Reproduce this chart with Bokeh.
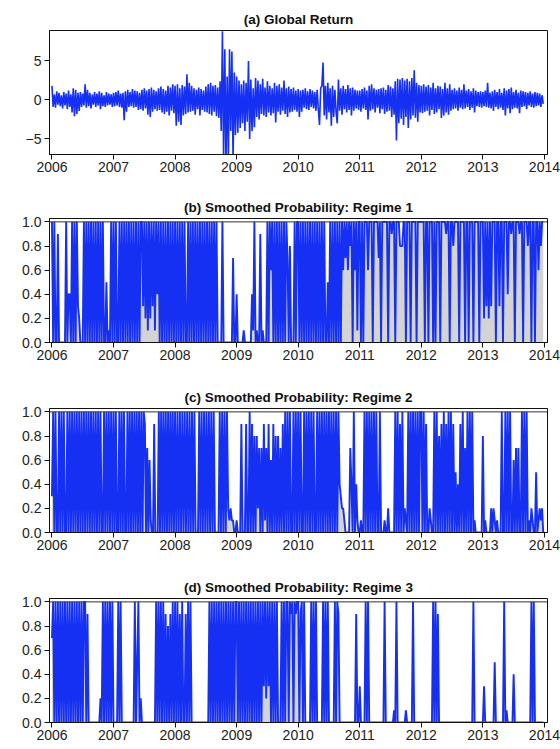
import numpy as np
from bokeh.plotting import figure
from bokeh.layouts import column
from bokeh.models import Span, FixedTicker, NumeralTickFormatter, Range1d
from bokeh.embed import file_html
from bokeh.resources import INLINE

YEARS = [2006, 2007, 2008, 2009, 2010, 2011, 2012, 2013]
YEAR_TICKS = [2006, 2007, 2008, 2009, 2010, 2011, 2012, 2013, 2014]
PROB_TICKS = [0.0, 0.2, 0.4, 0.6, 0.8, 1.0]
RET_TICKS = [-5, 0, 5]

# Weekly global return (%), one list per calendar year
ret_2006 = [1.8, -0.9, 0.7, -1.0, 1.1, -0.6, 0.9, -0.8, 0.6, -1.1, 1.0, -0.7, 0.8, -1.2, 1.2, -0.9, 0.7, -1.6, 1.5, -2.1,
            1.3, -1.8, 0.9, -1.4, 1.0, -0.9, 0.8, -0.7, 2.0, -1.0, 1.3, -0.8, 0.9, -1.1, 0.7, -0.6, 1.0, -0.9, 0.8, -0.7,
            1.1, -1.2, 0.9, -0.8, 0.6, -0.9, 1.0, -0.7, 0.8, -0.6, 0.7, -0.9]
ret_2007 = [0.9, -0.8, 1.0, -0.7, 1.2, -0.9, 0.8, -1.0, 0.9, -2.6, 1.1, -1.5, 1.3, -0.9, 1.0, -0.8, 1.4, -1.0, 1.2, -0.9,
            1.1, -1.3, 0.9, -1.2, 1.3, -1.4, 1.5, -1.1, 1.2, -1.9, 1.4, -2.2, 1.6, -1.5, 1.3, -1.2, 1.1, -1.4, 1.5, -1.3,
            1.7, -1.6, 1.4, -1.8, 1.2, -1.5, 1.8, -2.0, 1.6, -1.4, 2.0, -1.7]
ret_2008 = [1.8, -3.3, 2.0, -2.8, 1.5, -3.2, 1.9, -2.0, 1.7, -1.8, 3.3, -1.6, 2.2, -1.5, 1.8, -1.4, 1.5, -1.9, 1.3, -1.2,
            1.6, -2.0, 1.4, -1.3, 1.2, -1.5, 1.7, -1.6, 2.0, -1.8, 2.2, -2.0, 1.8, -1.5, 1.9, -2.1, 1.6, -2.3, 2.4, -4.0,
            8.8, -7.6, 6.5, -8.3, 3.0, -7.4, 6.5, -4.0, 6.2, -7.8, 3.5, -4.5]
ret_2009 = [3.0, -4.2, 2.5, -3.6, 2.0, -3.0, 2.5, -4.0, 2.2, -2.8, 5.0, -5.0, 2.6, -4.0, 1.5, -3.5, 2.8, -2.2, 2.5, -2.5,
            2.0, -1.8, 2.7, -2.0, 1.6, -2.2, 2.4, -1.6, 1.8, -2.0, 1.5, -1.7, 2.2, -2.9, 1.8, -1.5, 2.0, -1.9, 1.6, -1.4,
            2.5, -1.8, 1.5, -2.2, 1.7, -1.6, 1.4, -1.5, 1.6, -1.3, 1.2, -1.5]
ret_2010 = [1.4, -2.2, 1.2, -1.5, 1.3, -1.0, 1.5, -1.2, 1.1, -1.3, 1.4, -0.9, 1.2, -1.1, 1.0, -1.4, 1.3, -1.2, -3.2, 1.5,
            1.8, 4.8, -2.0, 1.8, -2.5, 2.2, -1.6, 1.5, -3.3, 1.8, -2.2, 1.3, -1.5, -3.0, 2.6, -1.4, 1.5, -1.9, 1.8, -1.2,
            1.4, -1.6, 1.9, -1.3, 1.5, -2.0, 1.6, -1.4, 1.3, -1.1, 1.2, -1.3]
ret_2011 = [1.2, -1.5, 1.4, -1.1, 1.6, -1.3, 1.2, -2.5, 1.8, -1.4, 2.0, -1.2, 1.5, -1.6, 1.3, -1.0, 1.4, -1.7, 1.5, -1.2,
            1.6, -1.8, 1.3, -1.5, 1.9, -1.4, 1.7, -2.2, 1.5, -1.9, 2.4, -5.2, 2.7, -3.0, 2.6, -2.4, 2.8, -3.2, 2.5, -2.2,
            2.7, -3.6, 2.4, -2.5, 2.8, -2.0, 3.8, -2.3, 2.2, -2.8, 1.9, -1.6]
ret_2012 = [1.8, -1.7, 2.0, -1.5, 1.7, -1.4, 1.9, -2.0, 1.6, -1.3, 2.2, -1.8, 1.5, -1.6, 1.8, -1.2, 1.7, -2.3, 1.4, -2.0,
            2.2, -1.6, 1.5, -1.9, 2.0, -1.4, 1.3, -1.2, 1.5, -1.1, 1.2, -1.4, 1.6, -1.0, 1.3, -1.2, 2.0, -1.1, 1.2, -0.9,
            1.4, -1.3, 1.1, -1.0, 1.5, -1.6, 1.2, -0.8, 1.0, -0.9, 1.1, -1.0]
ret_2013 = [1.0, -0.8, 1.2, -0.9, 2.2, -1.0, 0.9, -1.1, 1.1, -1.4, 1.3, -0.9, 1.0, -1.2, 1.4, -1.0, 0.9, -1.3, 1.5, -2.0,
            1.2, -1.1, 1.4, -1.7, 1.6, -1.2, 1.0, -1.0, 1.3, -1.1, 0.9, -1.7, 1.2, -0.9, 1.1, -0.8, 1.0, -1.2, 0.9, -0.7,
            1.1, -0.9, 0.8, -1.0, 1.0, -0.8, 0.9, -0.7, 0.8, -0.9, 0.6, -0.5]

# Weekly smoothed probabilities, in tenths, one list per calendar year
r1_2006 = [10, 0, 10, 0, 0, 9, 0, 0, 0, 0, 0, 0, 10, 0, 4, 4, 0, 10, 0, 10, 0, 10, 3, 2, 0, 0, 0, 10, 0, 10, 0, 10, 0,
           10, 0, 10, 0, 10, 0, 10, 0, 10, 0, 10, 0, 0, 5, 0, 1, 0, 10, 0]
r1_2007 = [10, 0, 10, 0, 0, 10, 0, 10, 0, 10, 0, 10, 0, 10, 0, 10, 0, 10, 0, 10, 0, 10, 0, 10, 10, 3, 10, 2, 10, 1, 10,
           2, 10, 3, 10, 1, 10, 4, 10, 0, 10, 0, 10, 0, 10, 0, 10, 0, 10, 0, 10, 0]
r1_2008 = [10, 0, 10, 0, 10, 0, 10, 0, 10, 0, 0, 10, 0, 10, 0, 10, 0, 10, 0, 10, 0, 10, 0, 10, 0, 10, 0, 10, 0, 10, 0,
           10, 0, 10, 0, 10, 0, 0, 0, 0, 10, 0, 0, 0, 0, 0, 0, 0, 0, 7, 0, 0]
r1_2009 = [4, 0, 0, 0, 0, 0, 1, 0, 0, 0, 0, 0, 0, 4, 1, 10, 0, 1, 0, 0, 9, 0, 1, 0, 0, 0, 10, 0, 10, 6, 10, 0, 10, 0,
           10, 0, 10, 0, 10, 0, 10, 0, 10, 7, 0, 8, 0, 0, 0, 10, 0, 10]
r1_2010 = [10, 0, 10, 0, 10, 0, 10, 0, 10, 0, 10, 0, 10, 0, 10, 0, 10, 0, 10, 0, 10, 0, 10, 0, 0, 5, 0, 10, 0, 10, 0,
           10, 0, 10, 0, 10, 0, 10, 6, 10, 7, 10, 6, 10, 8, 10, 0, 10, 6, 10, 1, 10]
r1_2011 = [10, 0, 10, 0, 10, 10, 10, 6, 10, 10, 10, 0, 10, 10, 10, 10, 7, 10, 0, 10, 10, 10, 10, 10, 0, 10, 10, 9, 10,
           10, 0, 10, 10, 10, 8, 8, 8, 10, 10, 0, 10, 10, 10, 0, 10, 10, 10, 10, 0, 10, 10, 10]
r1_2012 = [10, 10, 10, 0, 10, 10, 0, 10, 10, 10, 0, 10, 0, 10, 10, 10, 0, 10, 10, 10, 10, 9, 10, 10, 0, 10, 10, 8, 10,
           10, 10, 10, 0, 10, 10, 10, 10, 0, 10, 10, 0, 10, 10, 10, 0, 10, 10, 10, 10, 0, 10, 10]
r1_2013 = [10, 2, 10, 3, 10, 2, 10, 3, 10, 10, 10, 0, 10, 10, 3, 10, 10, 0, 10, 10, 10, 4, 10, 10, 9, 10, 10, 0, 10, 10,
           10, 9, 10, 10, 0, 10, 10, 10, 8, 10, 10, 0, 10, 10, 0, 10, 10, 6, 10, 8, 10, 10]

r2_2006 = [3, 10, 0, 10, 0, 0, 10, 0, 10, 0, 10, 0, 0, 10, 0, 10, 0, 10, 0, 10, 0, 10, 0, 10, 0, 10, 0, 10, 0, 10, 0,
           10, 0, 10, 0, 10, 0, 10, 0, 10, 0, 10, 0, 0, 10, 0, 10, 0, 10, 0, 10, 0]
r2_2007 = [10, 0, 10, 0, 0, 10, 0, 10, 0, 10, 0, 0, 10, 0, 10, 0, 10, 0, 10, 0, 10, 0, 10, 0, 10, 0, 10, 9, 0, 7, 0,
           6, 1, 0, 0, 9, 0, 0, 0, 10, 0, 10, 0, 10, 0, 10, 0, 10, 0, 10, 0, 10, 0]
r2_2008 = [10, 0, 10, 0, 10, 0, 10, 0, 10, 0, 10, 0, 10, 0, 10, 0, 10, 0, 0, 0, 10, 0, 10, 0, 10, 0, 10, 0, 10, 0, 10,
           0, 10, 0, 0, 0, 0, 10, 0, 10, 0, 10, 0, 10, 2, 1, 2, 1, 1, 0, 0]
r2_2009 = [1, 0, 0, 0, 9, 0, 0, 0, 9, 0, 0, 10, 0, 9, 0, 8, 0, 8, 2, 7, 0, 7, 0, 9, 1, 7, 0, 9, 0, 6, 0, 9, 0, 8, 0,
           8, 0, 7, 0, 9, 0, 10, 0, 10, 0, 10, 0, 0, 10, 0, 10, 0]
r2_2010 = [10, 0, 10, 0, 0, 10, 0, 10, 0, 10, 0, 10, 0, 10, 0, 0, 10, 0, 10, 0, 10, 0, 10, 0, 10, 0, 10, 0, 10, 0, 10,
           0, 10, 0, 10, 4, 3, 2, 2, 1, 0, 0, 0, 0, 7, 4, 0, 10, 0, 4, 1, 0]
r2_2011 = [0, 1, 0, 0, 10, 0, 10, 0, 10, 0, 10, 0, 10, 0, 10, 0, 0, 10, 0, 0, 0, 1, 0, 0, 2, 0, 0, 0, 0, 0, 10, 0, 10,
           0, 9, 0, 10, 0, 2, 1, 0, 10, 0, 10, 0, 10, 0, 10, 0, 10, 0, 10]
r2_2012 = [10, 0, 10, 0, 9, 0, 0, 2, 1, 0, 0, 10, 0, 10, 0, 8, 0, 9, 0, 10, 0, 9, 0, 10, 0, 10, 0, 9, 0, 5, 0, 4, 0, 9,
           0, 10, 0, 7, 0, 10, 0, 10, 0, 10, 0, 1, 0, 0, 0, 0, 0, 0]
r2_2013 = [8, 0, 1, 0, 0, 0, 0, 2, 0, 2, 1, 0, 1, 0, 0, 0, 10, 0, 0, 10, 0, 10, 0, 10, 0, 0, 6, 0, 7, 0, 7, 0, 0, 10,
           0, 10, 0, 10, 0, 1, 0, 2, 1, 0, 0, 5, 0, 1, 2, 1, 2, 0]

r3_2006 = [7, 10, 0, 10, 0, 10, 0, 10, 0, 10, 0, 10, 0, 10, 0, 10, 0, 10, 0, 10, 0, 10, 0, 10, 0, 10, 0, 10, 10, 0, 9,
           0, 0, 0, 0, 0, 0, 0, 0, 0, 0, 2, 0, 10, 0, 10, 0, 10, 0, 10, 0, 10]
r3_2007 = [0, 0, 0, 0, 10, 0, 10, 0, 0, 0, 0, 0, 0, 0, 0, 0, 0, 0, 10, 0, 5, 10, 0, 2, 0, 0, 0, 0, 0, 0, 0, 0, 0, 0,
           0, 0, 10, 0, 10, 0, 10, 0, 10, 0, 9, 0, 8, 0, 9, 0, 10, 0]
r3_2008 = [10, 0, 10, 0, 9, 0, 10, 0, 0, 9, 0, 10, 0, 10, 0, 0, 0, 0, 0, 0, 0, 0, 0, 0, 0, 0, 0, 0, 0, 10, 0, 10, 0,
           10, 0, 10, 0, 10, 0, 10, 0, 10, 0, 10, 0, 10, 0, 10, 0, 10, 0, 10]
r3_2009 = [10, 0, 10, 0, 10, 0, 10, 0, 10, 0, 10, 0, 10, 0, 10, 0, 10, 0, 10, 0, 10, 0, 10, 3, 10, 2, 10, 3, 10, 0, 10,
           0, 10, 0, 10, 0, 0, 0, 10, 0, 10, 0, 10, 10, 0, 10, 9, 10, 0, 10, 9, 10]
r3_2010 = [10, 0, 9, 10, 0, 10, 0, 0, 0, 0, 0, 10, 0, 10, 0, 10, 0, 0, 0, 0, 0, 10, 0, 10, 0, 10, 0, 0, 0, 0, 0, 10, 0,
           10, 9, 0, 0, 0, 0, 0, 0, 0, 0, 0, 0, 0, 0, 0, 0, 9, 0, 0]
r3_2011 = [3, 0, 0, 0, 0, 10, 0, 10, 0, 0, 0, 0, 0, 0, 0, 0, 0, 0, 0, 0, 0, 10, 0, 0, 0, 0, 0, 0, 0, 1, 0, 10, 0, 0,
           0, 0, 0, 0, 0, 1, 0, 0, 0, 0, 0, 10, 0, 0, 0, 0, 0, 0]
r3_2012 = [0, 0, 0, 0, 0, 0, 0, 0, 0, 0, 10, 0, 10, 0, 9, 0, 0, 0, 0, 0, 0, 0, 0, 0, 0, 0, 0, 0, 0, 0, 0, 0, 0, 0, 0,
           0, 0, 0, 0, 0, 0, 0, 0, 0, 10, 0, 0, 0, 0, 0, 0, 0]
r3_2013 = [0, 3, 0, 0, 0, 0, 0, 0, 0, 0, 5, 0, 0, 0, 0, 0, 0, 0, 10, 0, 1, 0, 0, 0, 0, 0, 4, 0, 0, 0, 0, 0, 0, 0, 0,
           0, 0, 0, 0, 0, 0, 10, 0, 10, 0, 0, 0, 0, 0, 0, 0, 0]

returns = [ret_2006, ret_2007, ret_2008, ret_2009, ret_2010, ret_2011, ret_2012, ret_2013]
regime1 = [r1_2006, r1_2007, r1_2008, r1_2009, r1_2010, r1_2011, r1_2012, r1_2013]
regime2 = [r2_2006, r2_2007, r2_2008, r2_2009, r2_2010, r2_2011, r2_2012, r2_2013]
regime3 = [r3_2006, r3_2007, r3_2008, r3_2009, r3_2010, r3_2011, r3_2012, r3_2013]

BLUE = "#1530f2"
GREY = "#d4d4d4"
FONT = "Liberation Sans"


def on_time_axis(by_year, scale=1.0):
    """Spread each year's weekly observations evenly across that year."""
    xs, ys = [], []
    for yr, vals in zip(YEARS, by_year):
        n = len(vals)
        for i, v in enumerate(vals):
            xs.append(yr + i / n)
            ys.append(v * scale)
    return np.array(xs), np.array(ys)


def panel(title, y0, y1, yticks, top, bottom, fmt=None):
    p = figure(frame_width=498, frame_height=124, x_range=Range1d(2005.96, 2014.05),
               y_range=Range1d(y0, y1), output_backend="svg", toolbar_location=None,
               min_border_left=49, min_border_right=13, min_border_top=top, min_border_bottom=bottom)
    p.title.text = title
    p.title.align = "center"
    p.title.text_font = FONT
    p.title.text_font_style = "bold"
    p.title.text_font_size = "13.5px"
    p.title.text_color = "#111111"
    p.title.standoff = 8
    p.grid.visible = False
    p.outline_line_color = "#111111"
    p.outline_line_width = 1
    p.background_fill_color = "white"
    p.border_fill_color = "white"
    p.xaxis.ticker = FixedTicker(ticks=YEAR_TICKS)
    p.yaxis.ticker = FixedTicker(ticks=yticks)
    if fmt:
        p.yaxis.formatter = NumeralTickFormatter(format=fmt)
    for ax in (p.xaxis[0], p.yaxis[0]):
        ax.major_label_text_font = FONT
        ax.major_label_text_font_size = "14px"
        ax.major_label_text_color = "#222222"
        ax.axis_line_color = "#111111"
        ax.major_tick_line_color = "#111111"
        ax.major_tick_out = 5
        ax.major_tick_in = 0
        ax.minor_tick_out = 0
        ax.minor_tick_in = 0
    p.xaxis.major_label_standoff = 2
    p.yaxis.major_label_standoff = 3
    return p


# (a) returns
pa = panel("(a) Global Return", -7.0, 8.9, RET_TICKS, 30, 34)
xa, ya = on_time_axis(returns)
pa.line(xa, ya, line_color=BLUE, line_width=1.6)

figs = [pa]
for label, series, top, bottom in (("(b) Smoothed Probability: Regime 1", regime1, 30, 35),
                                   ("(c) Smoothed Probability: Regime 2", regime2, 31, 35),
                                   ("(d) Smoothed Probability: Regime 3", regime3, 31, 27)):
    p = panel(label, 0.0, 1.028, PROB_TICKS, top, bottom, "0.0")
    xs, ys = on_time_axis(series, scale=0.1)
    p.varea(x=xs, y1=np.zeros_like(ys), y2=ys, fill_color=GREY)
    p.line(xs, ys, line_color=BLUE, line_width=1.9)
    p.add_layout(Span(location=1.0, dimension="width", line_color="#333333", line_width=1))
    figs.append(p)

layout = column(*figs, spacing=0)
open("out.html", "w").write(file_html(layout, INLINE))
